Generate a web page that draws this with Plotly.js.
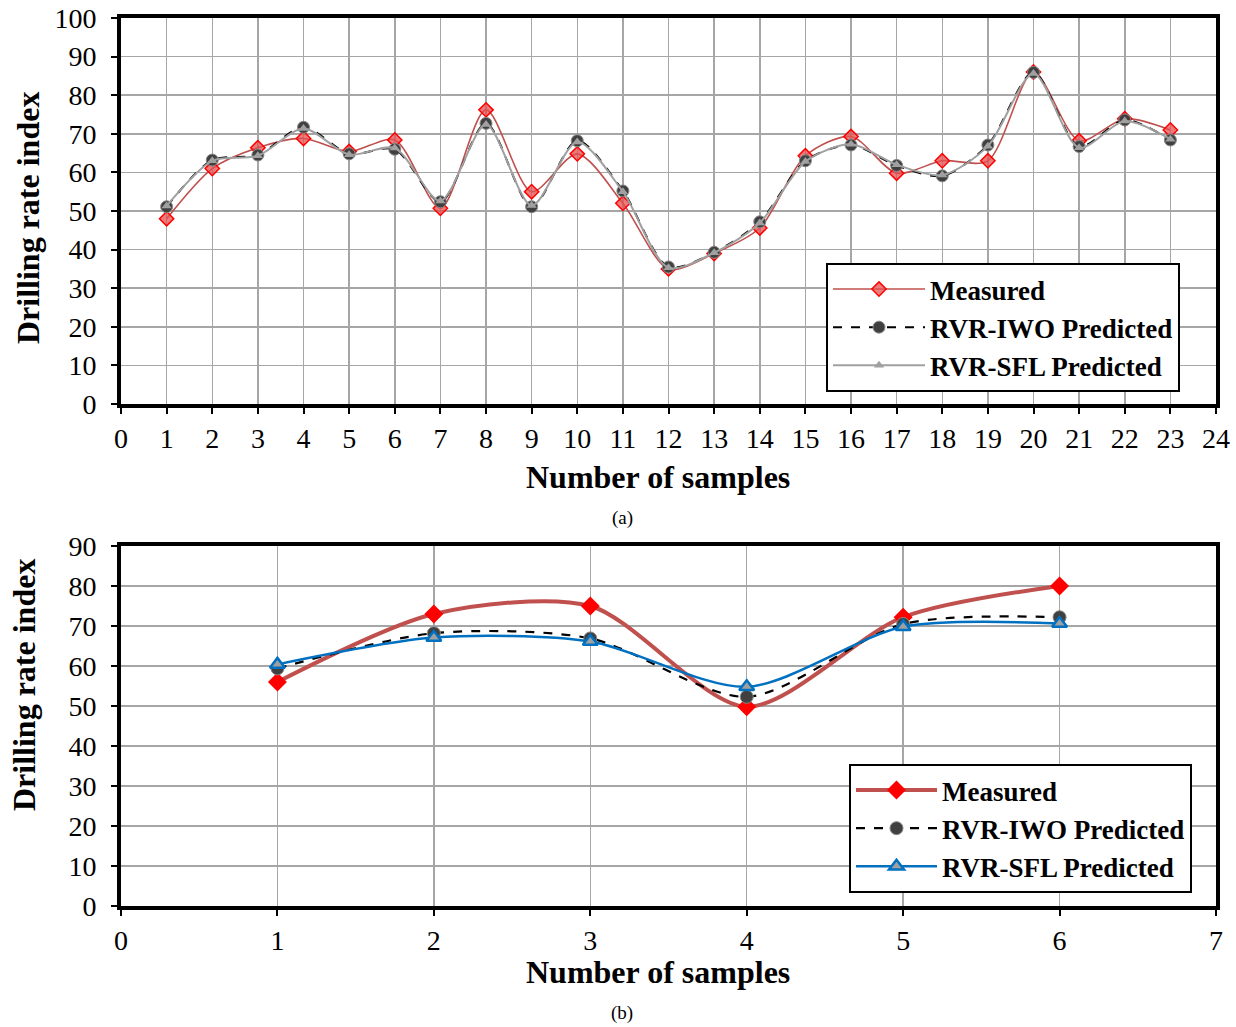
<!DOCTYPE html>
<html>
<head>
<meta charset="utf-8">
<script src="https://cdn.plot.ly/plotly-3.0.1.min.js"></script>
<style>html,body{margin:0;padding:0;background:#fff;}#chart{width:1236px;height:1027px;}</style>
</head>
<body>
<div id="chart"></div>
<script>
// Chart (a)
const samplesA = [1,2,3,4,5,6,7,8,9,10,11,12,13,14,15,16,17,18,19,20,21,22,23];
const measuredA = [48,61,66.4,68.8,65.4,68.4,50.7,76.2,55,64.8,52,35,39,45.6,64.3,69.3,59.8,63,63,86,68.2,73.9,71];
const iwoA = [51.1,63.2,64.5,71.7,64.8,66,52.4,72.7,51.1,68.2,55.2,35.5,39.3,47.2,63,67.1,61.8,59.1,67.1,85.9,66.7,73.6,68.4];
const sflA = [51.3,63,64.3,71.4,64.6,66.3,52.6,72.4,51.4,67.9,55,35.3,39.2,46.9,62.8,67.3,62,59.3,66.8,85.6,66.4,73.3,68.6];
// Chart (b)
const samplesB = [1,2,3,4,5,6];
const measuredB = [56,73,75,49.8,72.2,80];
const iwoB = [59.4,68.2,66.9,52.3,70.5,72.2];
const sflB = [60.4,67.1,66.1,54.8,69.8,70.6];

const names = ['Measured','RVR-IWO Predicted','RVR-SFL Predicted'];
const xTitle = 'Number of samples';
const yTitle = 'Drilling rate index';
const captions = ['(a)','(b)'];
const serif = 'Liberation Serif, Times New Roman, serif';

const traces = [
  {x: samplesA, y: measuredA, name: names[0], type:'scatter', mode:'lines+markers', xaxis:'x', yaxis:'y', legend:'legend',
   line:{color:'#C0504D', width:1.6, shape:'spline', smoothing:0.8},
   marker:{symbol:'diamond', size:11, color:'rgba(230,80,80,0.75)', line:{color:'#FF0000', width:1.5}}},
  {x: samplesA, y: iwoA, name: names[1], type:'scatter', mode:'lines+markers', xaxis:'x', yaxis:'y', legend:'legend',
   line:{color:'#000000', width:2, dash:'dash', shape:'spline', smoothing:0.8},
   marker:{symbol:'circle', size:12, color:'#404040', line:{color:'#888888', width:1}}},
  {x: samplesA, y: sflA, name: names[2], type:'scatter', mode:'lines+markers', xaxis:'x', yaxis:'y', legend:'legend',
   line:{color:'#A0A0A0', width:2, shape:'spline', smoothing:0.8},
   marker:{symbol:'triangle-up', size:9, color:'#A0A0A0', line:{color:'#A0A0A0', width:0}}},
  {x: samplesB, y: measuredB, name: names[0], type:'scatter', mode:'lines+markers', xaxis:'x2', yaxis:'y2', legend:'legend2',
   line:{color:'#C0504D', width:4, shape:'spline', smoothing:0.8},
   marker:{symbol:'diamond', size:13, color:'#FF0000', line:{color:'#FF0000', width:1.5}}},
  {x: samplesB, y: iwoB, name: names[1], type:'scatter', mode:'lines+markers', xaxis:'x2', yaxis:'y2', legend:'legend2',
   line:{color:'#000000', width:2.2, dash:'dash', shape:'spline', smoothing:0.8},
   marker:{symbol:'circle', size:13, color:'#404040', line:{color:'#888888', width:1}}},
  {x: samplesB, y: sflB, name: names[2], type:'scatter', mode:'lines+markers', xaxis:'x2', yaxis:'y2', legend:'legend2',
   line:{color:'#0070C0', width:2.5, shape:'spline', smoothing:0.8},
   marker:{symbol:'triangle-up', size:13, color:'#A0A0A0', line:{color:'#0070C0', width:2.5}}}
];

const W = 1236, H = 1027;
const xd = [121/W, 1216/W];
function axisCommon(extra){
  return Object.assign({
    showline:true, mirror:true, linecolor:'#000', linewidth:4,
    showgrid:true, gridcolor:'#A6A6A6', gridwidth:1.5,
    zeroline:false, ticks:'outside', ticklen:6, tickwidth:2, tickcolor:'#000',
    tickfont:{family:serif, size:28, color:'#000'},
    fixedrange:true
  }, extra);
}
const legendCommon = {
  bgcolor:'#fff', bordercolor:'#000', borderwidth:2,
  font:{family:serif, size:27, color:'#000', weight:'bold'},
  tracegroupgap:0, xanchor:'left', yanchor:'top'
};
const titleFont = {family:serif, size:32, color:'#000', weight:'bold'};
function ann(text, x, y, font, extra){
  return Object.assign({text:text, xref:'paper', yref:'paper', x:x/W, y:1-y/H, xanchor:'center', yanchor:'middle', showarrow:false, font:font}, extra||{});
}

const layout = {
  width:W, height:H,
  margin:{l:0, r:0, t:0, b:0},
  paper_bgcolor:'#fff', plot_bgcolor:'#fff',
  showlegend:true,
  xaxis: axisCommon({domain:xd, range:[0,24], dtick:1, tick0:0, anchor:'y'}),
  yaxis: axisCommon({domain:[1-404/H, 1-18/H], range:[0,100], dtick:10, tick0:0, anchor:'x', ticklabelstandoff:9}),
  xaxis2: axisCommon({domain:xd, range:[0,7], dtick:1, tick0:0, anchor:'y2'}),
  yaxis2: axisCommon({domain:[1-906/H, 1-546/H], range:[0,90], dtick:10, tick0:0, anchor:'x2', ticklabelstandoff:9}),
  legend: Object.assign({}, legendCommon, {x:826/W, y:1-263/H, itemwidth:92}),
  legend2: Object.assign({}, legendCommon, {x:849/W, y:1-764/H, itemwidth:81}),
  annotations:[
    ann(xTitle, 658, 477, titleFont),
    ann(yTitle, 28, 218, titleFont, {textangle:-90}),
    ann(xTitle, 658, 972, titleFont),
    ann(yTitle, 24, 685, titleFont, {textangle:-90}),
    ann(captions[0], 622, 518, {family:serif, size:19, color:'#000'}),
    ann(captions[1], 622, 1013, {family:serif, size:19, color:'#000'})
  ]
};

Plotly.newPlot('chart', traces, layout, {displayModeBar:false, staticPlot:true});
</script>
</body>
</html>
